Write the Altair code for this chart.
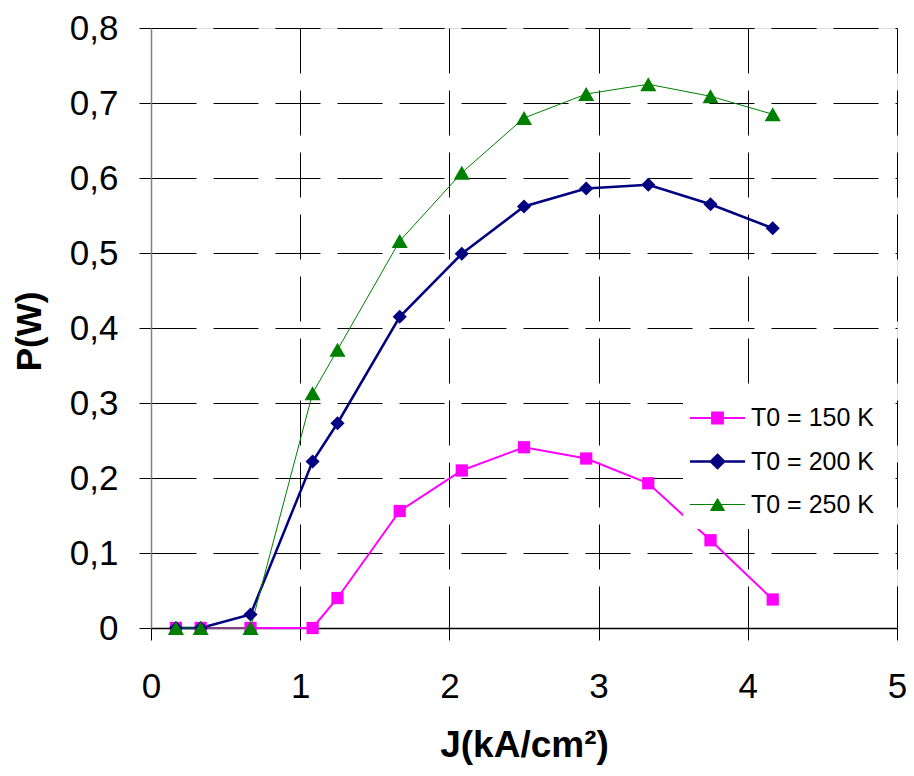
import altair as alt
import pandas as pd

# ---- data ----
J = [0.167, 0.333, 0.667, 1.083, 1.25, 1.667, 2.083, 2.5, 2.917, 3.333, 3.75, 4.167]
P150 = [0, 0, 0, 0, 0.04, 0.156, 0.21, 0.241, 0.226, 0.193, 0.117, 0.038]
P200 = [0, 0, 0.018, 0.222, 0.273, 0.415, 0.499, 0.562, 0.586, 0.591, 0.565, 0.533]
P250 = [0, 0, 0, 0.313, 0.371, 0.516, 0.607, 0.68, 0.712, 0.725, 0.709, 0.685]
SERIES = ["T0 = 150 K", "T0 = 200 K", "T0 = 250 K"]
X_TICKS = [0, 1, 2, 3, 4, 5]
Y_TICKS = [0, 0.1, 0.2, 0.3, 0.4, 0.5, 0.6, 0.7, 0.8]

# ---- styles ----
COLORS = ["#FF00FF", "#000080", "#008000"]
WIDTHS = [2, 2.5, 1]
MARKERS = ["square", "diamond", "triangle-up"]
MARKER_SIZES = [150, 200, 260]
LEGEND_SHAPES = [
    "M-2.3,0H2.3M-0.45,-0.45H0.45V0.45H-0.45Z",
    "M-2.3,0H2.3M0,-0.55L0.55,0L0,0.55L-0.55,0Z",
    "M-2.3,0H2.3M0,-0.5L0.58,0.5H-0.58Z",
]
FONT = "Liberation Sans"

rows = []
for name, vals in zip(SERIES, [P150, P200, P250]):
    for j, p in zip(J, vals):
        rows.append({"J": j, "P": p, "series": name})
df = pd.DataFrame(rows)

x_enc = alt.X(
    "J:Q",
    scale=alt.Scale(domain=[0, 5], nice=False, zero=False),
    axis=alt.Axis(
        values=X_TICKS, format="d", title="J(kA/cm²)",
        grid=True, gridDash=[45, 17], gridColor="#000000", gridOpacity=1, gridWidth=1,
        domainColor="#000000", domainWidth=1.5, tickColor="#000000", tickSize=12, tickWidth=1,
        labelFont=FONT, labelFontSize=35, labelColor="#000000", labelPadding=29,
        labelFlush=False, labelOverlap=False,
        titleFont=FONT, titleFontSize=37, titleFontWeight="bold", titleColor="#000000",
        titleBaseline="alphabetic", titleY=128,
    ),
)
y_enc = alt.Y(
    "P:Q",
    scale=alt.Scale(domain=[0, 0.8], nice=False),
    axis=alt.Axis(
        values=Y_TICKS, title="P(W)",
        labelExpr="datum.value == 0 ? '0' : replace(format(datum.value, '.1f'), '.', ',')",
        grid=True, gridDash=[45, 17], gridColor="#000000", gridOpacity=1, gridWidth=1,
        domainColor="#808080", domainWidth=1.5, tickColor="#000000", tickSize=12, tickWidth=1,
        labelFont=FONT, labelFontSize=35, labelColor="#000000", labelPadding=21,
        labelFlush=False, labelOverlap=False,
        titleFont=FONT, titleFontSize=35, titleFontWeight="bold", titleColor="#000000",
        titleBaseline="alphabetic", titleAngle=270, titleX=-111, titleY=303,
    ),
)

stroke_scale = alt.Scale(domain=SERIES, range=COLORS)
fill_scale = alt.Scale(domain=SERIES, range=COLORS)
width_scale = alt.Scale(type="ordinal", domain=SERIES, range=WIDTHS)
shape_scale = alt.Scale(domain=SERIES, range=LEGEND_SHAPES)

leg = alt.Legend(
    orient="none", legendX=532, legendY=366, title=None,
    padding=11, symbolOffset=10, labelOffset=20, rowPadding=17,
    symbolSize=576, labelFont=FONT, labelFontSize=25, labelColor="#000000",
    fillColor="#ffffff",
)

base = alt.Chart(df)

layers = []
# lines first (in series order), then markers
for name, w in zip(SERIES, WIDTHS):
    layers.append(
        base.transform_filter(alt.datum.series == name).mark_line(strokeWidth=w).encode(
            x=x_enc, y=y_enc,
            stroke=alt.Stroke("series:N", scale=stroke_scale, legend=leg),
        )
    )
for name, shp, sz in zip(SERIES, MARKERS, MARKER_SIZES):
    layers.append(
        base.transform_filter(alt.datum.series == name).mark_point(
            shape=shp, filled=True, size=sz, opacity=1
        ).encode(
            x=x_enc, y=y_enc,
            fill=alt.Fill("series:N", scale=fill_scale, legend=leg),
        )
    )

# legend-carrying layer (no rows pass the filter)
ghost = base.transform_filter("datum.P < -1").mark_point(filled=True, opacity=1).encode(
    x=x_enc, y=y_enc,
    fill=alt.Fill("series:N", scale=fill_scale, legend=leg),
    stroke=alt.Stroke("series:N", scale=stroke_scale, legend=leg),
    strokeWidth=alt.StrokeWidth("series:N", scale=width_scale, legend=leg),
    shape=alt.Shape("series:N", scale=shape_scale, legend=leg),
)
layers.append(ghost)

chart = alt.layer(*layers).properties(
    width=746, height=600,
    autosize=alt.AutoSizeParams(type="none"),
    padding={"left": 143, "top": 20, "right": 9, "bottom": 140},
).configure_view(stroke=None).configure(background="white")

chart.save("out.html", embed_options={"renderer": "svg", "actions": False})
